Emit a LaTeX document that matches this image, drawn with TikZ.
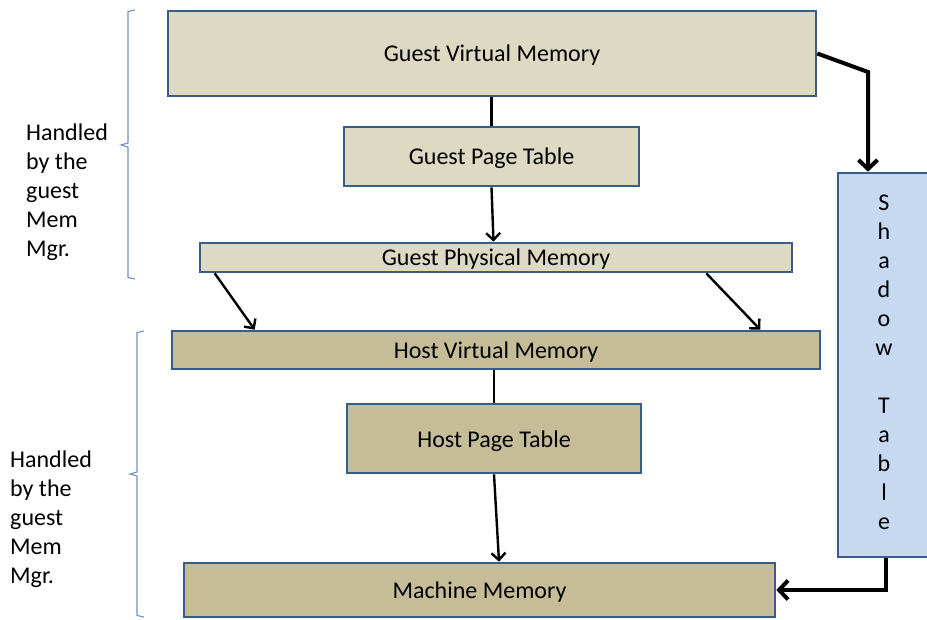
\documentclass[tikz,border=0pt]{standalone}
\usepackage{fontspec}
\setmainfont{Carlito}
\usetikzlibrary{calc,arrows.meta}
\definecolor{tanL}{HTML}{DDD9C3}
\definecolor{tanD}{HTML}{C4BD97}
\definecolor{blueL}{HTML}{C6D9F1}
\definecolor{bord}{HTML}{385D8A}
\definecolor{bracecol}{HTML}{6F92C6}
\begin{document}
\begin{tikzpicture}[x=1pt,y=-1pt,
  box/.style={draw=bord,line width=2.6pt,inner sep=0pt,text height=17pt,text depth=0pt,font=\fontsize{24}{29}\selectfont},
  lbl/.style={align=left,inner sep=0pt,anchor=north west,font=\fontsize{24}{29}\selectfont},
  conn/.style={line width=2.4pt,-{Straight Barb[length=7pt,width=14pt,line width=2.4pt]}},
  link/.style={line width=2.4pt},
  bigconn/.style={line width=4pt,-{Straight Barb[length=9pt,width=19pt,line width=4pt]}},
  bracepath/.style={draw=bracecol,line width=1.1pt}
]
\useasboundingbox (0,0) rectangle (927,620);
\fill[white] (0,0) rectangle (927,620);

\node[box,fill=tanL,minimum width=648pt,minimum height=85pt] (gvm) at (492,53.5) {Guest Virtual Memory};
\node[box,fill=tanL,minimum width=295pt,minimum height=59pt] (gpt) at (491.5,156.5) {Guest Page Table};
\node[box,fill=tanL,minimum width=592pt,minimum height=29pt] (gpm) at (496,257.5) {Guest Physical Memory};
\node[box,fill=tanD,minimum width=648pt,minimum height=38pt] (hvm) at (496,350) {Host Virtual Memory};
\node[box,fill=tanD,minimum width=294pt,minimum height=69pt] (hpt) at (494,438.5) {Host Page Table};
\node[box,fill=tanD,minimum width=591pt,minimum height=54pt] (mm) at (479.5,590) {Machine Memory};
\node[box,fill=blueL,minimum width=92pt,minimum height=384pt] (shadow) at (884,365) {};
\node[align=center,inner sep=0pt,font=\fontsize{24}{29}\selectfont] (shadowtxt) at (884,362.5) {S\\h\\a\\d\\o\\w\\[29pt]T\\a\\b\\l\\e};

% connectors
\draw[link] (gvm.south -| gpt.north) -- (gpt.north);
\draw[conn] (gpt.south) -- ([xshift=2pt]gpt.south |- gpm.north);
\draw[conn] ([xshift=16pt]gpm.south west) -- ([xshift=84pt]hvm.north west);
\draw[conn] ([xshift=-87pt]gpm.south east) -- ([xshift=-61pt]hvm.north east);
\draw[link] (hpt.north |- hvm.south) -- (hpt.north);
\draw[conn] (hpt.south) -- ([xshift=5pt]hpt.south |- mm.north);

\coordinate (bend) at (868,72);
\draw[bigconn] (gvm.east) -- (bend) -- (bend |- shadow.north);
\draw[bigconn] ([xshift=2pt]shadow.south) |- (mm.east);

% braces
\draw[bracepath] (135,10) -- (128,11.5) -- (128,143) -- (121,145) -- (128,147) -- (128,277.5) -- (135,279);
\draw[bracepath] (144,331) -- (137,332.5) -- (137,472) -- (130,474) -- (137,476) -- (137,615.5) -- (144,617);

\node[lbl] (lblA) at (26,124) {Handled\\by the\\guest\\Mem\\Mgr.};
\node[lbl] (lblB) at (10,451) {Handled\\by the\\guest\\Mem\\Mgr.};
\end{tikzpicture}
\end{document}
